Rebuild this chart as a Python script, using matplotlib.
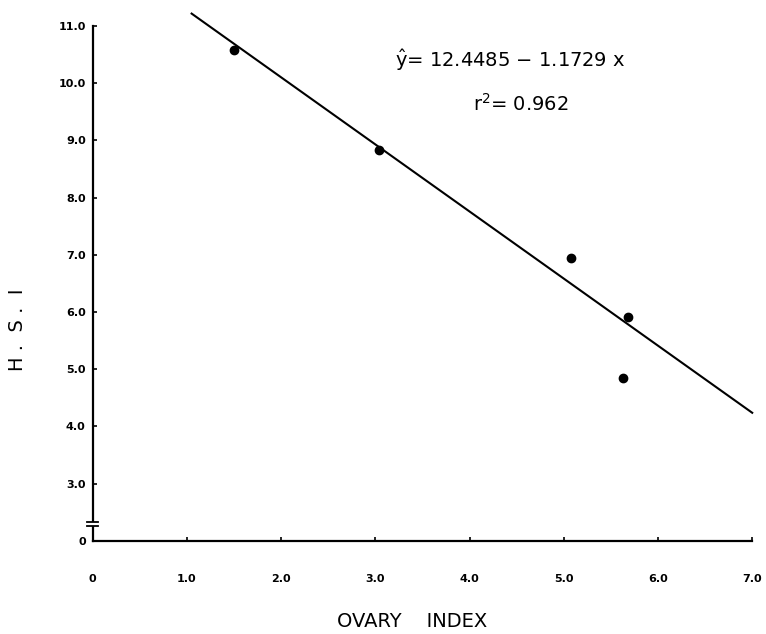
import numpy as np
import matplotlib.pyplot as plt
from matplotlib import transforms

# ovary index vs hepatosomatic index
ovary_index = [1.50, 3.04, 5.08, 5.68, 5.63]
hsi = [10.58, 8.83, 6.94, 5.92, 4.84]

intercept = 12.4485
slope = -1.1729
fit_x = [1.05, 7.0]

x_ticks = [0, 1, 2, 3, 4, 5, 6, 7]
x_labels = ["0", "1.0", "2.0", "3.0", "4.0", "5.0", "6.0", "7.0"]
y_ticks = [2.0, 3, 4, 5, 6, 7, 8, 9, 10, 11]
y_labels = ["0", "3.0", "4.0", "5.0", "6.0", "7.0", "8.0", "9.0", "10.0", "11.0"]

fig = plt.figure(figsize=(7.66, 6.34), dpi=100)
ax = fig.add_axes([0.121, 0.147, 0.861, 0.812])

ax.scatter(ovary_index, hsi, s=36, color="black", zorder=3)
fx = np.array(fit_x)
ax.plot(fx, intercept + slope * fx, color="black", lw=1.5, clip_on=False)

ax.set_xlim(0, 7)
ax.set_ylim(2.0, 11.0)
for side in ("top", "right"):
    ax.spines[side].set_visible(False)
for side in ("left", "bottom"):
    ax.spines[side].set_linewidth(1.6)

ax.set_xticks(x_ticks)
ax.set_xticklabels(x_labels)
ax.set_yticks(y_ticks)
ax.set_yticklabels(y_labels)
ax.tick_params(axis="both", direction="in", length=3, width=1.2,
               labelsize=8)
ax.tick_params(axis="x", pad=24)
ax.tick_params(axis="y", pad=5)
for lab in ax.get_xticklabels() + ax.get_yticklabels():
    lab.set_fontweight("bold")

# axis break marks
tr = transforms.blended_transform_factory(ax.transAxes, ax.transData)
ax.plot([0, 0], [2.255, 2.335], color="white", lw=3,
        transform=tr, clip_on=False, zorder=4, solid_capstyle="butt")
for yb in (2.26, 2.33):
    ax.plot([-0.008, 0.008], [yb, yb], color="black", lw=1.3,
            transform=tr, clip_on=False, zorder=5)

ax.text(0.458, 0.934, r"$\hat{\mathrm{y}}$= 12.4485 $-$ 1.1729 x",
        transform=ax.transAxes, fontsize=14, ha="left", va="center")
ax.text(0.65, 0.849, r"r$^{2}$= 0.962",
        transform=ax.transAxes, fontsize=14, ha="center", va="center")

fig.text(0.538, 0.019, "OVARY    INDEX", fontsize=14, ha="center",
         va="center")
fig.text(0.023, 0.48, "H .  S .  I", fontsize=14, rotation=90,
         ha="center", va="center")

fig.savefig("out.png", dpi=100)
